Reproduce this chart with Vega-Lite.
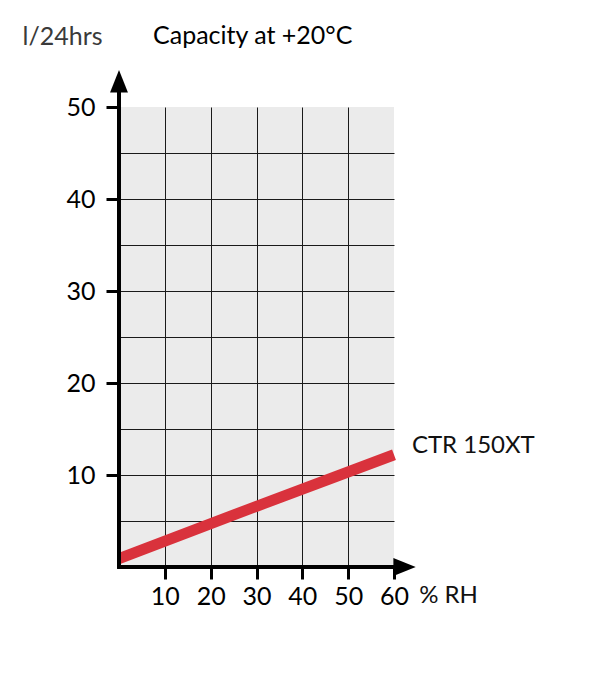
{
  "$schema": "https://vega.github.io/schema/vega-lite/v6.json",
  "description": "Dehumidifier capacity (l/24hrs) against relative humidity at +20°C.",
  "width": 275,
  "height": 460,
  "autosize": "none",
  "padding": {"left": 119, "top": 107, "right": 205, "bottom": 111},
  "background": "white",
  "config": {
    "font": "Lato",
    "view": {"fill": "#ebebeb", "stroke": null}
  },
  "title": {
    "text": "Capacity at +20°C",
    "anchor": "start",
    "frame": "group",
    "fontSize": 25,
    "fontWeight": "normal",
    "color": "#000000",
    "baseline": "middle",
    "dx": 34,
    "dy": 47,
    "offset": 10
  },
  "datasets": {
    "curve": [
      {"rh": 0, "capacity": 0.9},
      {"rh": 30, "capacity": 6.6},
      {"rh": 60, "capacity": 12.2}
    ],
    "axislines": [
      {"rh": 0, "capacity": -0.2, "rh2": 0, "capacity2": 52},
      {"rh": -0.4, "capacity": 0, "rh2": 62, "capacity2": 0}
    ],
    "arrows": [
      {"rh": 0, "capacity": 52.8, "dir": "up"},
      {"rh": 62.3, "capacity": 0, "dir": "right"}
    ],
    "labels": [
      {"rh": 63.9, "capacity": 13.1, "text": "CTR 150XT"},
      {"rh": 65.5, "capacity": -3.15, "text": "% RH"}
    ]
  },
  "layer": [
    {
      "data": {"name": "curve"},
      "mark": {"type": "line", "color": "#d9323c", "strokeWidth": 11, "strokeCap": "butt"},
      "encoding": {
        "x": {
          "field": "rh",
          "type": "quantitative",
          "scale": {"domain": [0, 60], "nice": false, "zero": false},
          "axis": {
            "title": null,
            "orient": "bottom",
            "values": [10, 20, 30, 40, 50, 60],
            "domain": false,
            "ticks": true,
            "tickSize": 12,
            "tickWidth": 3,
            "tickColor": "#000000",
            "labelFontSize": 25,
            "labelColor": "#000000",
            "labelPadding": 5,
            "labelFlush": false,
            "labelOverlap": false,
            "grid": true,
            "gridColor": "#1a1a1a",
            "gridWidth": 1,
            "gridOpacity": {"condition": {"test": "datum.value < 60", "value": 1}, "value": 0}
          }
        },
        "y": {
          "field": "capacity",
          "type": "quantitative",
          "scale": {"domain": [0, 50], "nice": false, "zero": false},
          "axis": {
            "title": "l/24hrs",
            "titleAngle": 0,
            "titleAlign": "left",
            "titleBaseline": "middle",
            "titleX": -97,
            "titleY": -71,
            "titleFontSize": 25,
            "titleFontWeight": "normal",
            "titleColor": "#3a3a3a",
            "orient": "left",
            "values": [5, 10, 15, 20, 25, 30, 35, 40, 45, 50],
            "labelExpr": "datum.value % 10 === 0 ? datum.label : ''",
            "labelFlush": false,
            "labelOverlap": false,
            "domain": false,
            "ticks": true,
            "tickSize": 13,
            "tickWidth": 3,
            "tickColor": "#000000",
            "tickOpacity": {"condition": {"test": "datum.value % 10 === 0", "value": 1}, "value": 0},
            "labelFontSize": 25,
            "labelColor": "#000000",
            "labelPadding": 11,
            "grid": true,
            "gridColor": "#1a1a1a",
            "gridWidth": 1,
            "gridOpacity": {"condition": {"test": "datum.value < 50", "value": 1}, "value": 0}
          }
        }
      }
    },
    {
      "data": {"name": "axislines"},
      "mark": {"type": "rule", "color": "#000000", "strokeWidth": 4},
      "encoding": {
        "x": {"field": "rh", "type": "quantitative"},
        "y": {"field": "capacity", "type": "quantitative"},
        "x2": {"field": "rh2"},
        "y2": {"field": "capacity2"}
      }
    },
    {
      "data": {"name": "arrows"},
      "mark": {"type": "point", "filled": true, "color": "#000000", "opacity": 1, "size": 500},
      "encoding": {
        "x": {"field": "rh", "type": "quantitative"},
        "y": {"field": "capacity", "type": "quantitative"},
        "shape": {
          "field": "dir",
          "type": "nominal",
          "scale": {
            "domain": ["up", "right"],
            "range": ["M0,-1L0.8,1L-0.8,1Z", "M1,0L-1,0.8L-1,-0.8Z"]
          },
          "legend": null
        }
      }
    },
    {
      "data": {"name": "labels"},
      "mark": {"type": "text", "align": "left", "baseline": "middle", "fontSize": 24, "color": "#111111"},
      "encoding": {
        "x": {"field": "rh", "type": "quantitative"},
        "y": {"field": "capacity", "type": "quantitative"},
        "text": {"field": "text", "type": "nominal"}
      }
    }
  ]
}
